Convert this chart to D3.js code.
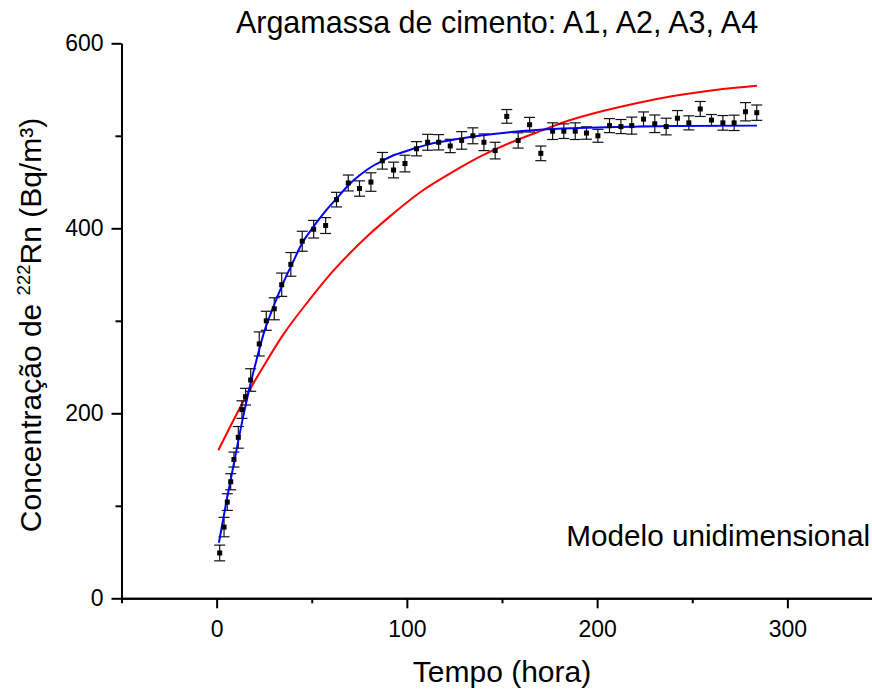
<!DOCTYPE html>
<html>
<head>
<meta charset="utf-8">
<script src="https://cdn.jsdelivr.net/npm/d3@7"></script>
<style>
  body { margin: 0; background: #fff; }
  svg { display: block; font-family: "Liberation Sans", Arial, sans-serif; }
</style>
</head>
<body>
<div id="chart"></div>
<script>
// dados: tempo (hora), concentração e barra de erro
const tempo = [1.6, 3.9, 5.6, 7.4, 9.1, 11.4, 13.3, 15.2, 17.9, 22.4, 26.1, 30.3, 34.2, 39.0, 45.0,
  51.0, 57.3, 63.0, 69.2, 75.1, 81.1, 87.1, 93.0, 99.0, 105.1, 110.9, 116.7, 122.8, 128.8, 134.7,
  140.5, 146.4, 152.5, 158.5, 164.5, 170.4, 176.6, 182.5, 188.5, 194.4, 200.4, 206.5, 212.5, 218.2,
  224.4, 230.3, 236.3, 242.2, 248.2, 254.2, 260.1, 266.1, 272.0, 278.0, 283.9];
const concentracao = [49, 77, 104, 126, 150, 174, 204, 218, 236, 275, 300, 313, 339, 361, 386,
  399, 403, 431, 449, 443, 450, 473, 463, 470, 486, 493, 493, 489, 495, 500,
  493, 484, 521, 495, 512, 481, 505, 505, 505, 503, 500, 511, 510, 511,
  518, 513, 510, 519, 514, 529, 517, 514, 514, 526, 525];
const erro = [8.5, 10.5, 9, 8.7, 8.1, 11.7, 9.5, 9, 12.2, 13, 10.3, 11.9, 12.6, 12.8, 10.8,
  9.5, 8.6, 7.9, 8.6, 8.3, 10, 9, 8.5, 9, 7.7, 8.6, 8.3, 7.2, 9.5, 8.6,
  9, 9, 7.4, 8.3, 7.9, 7.9, 9, 7.9, 9, 6.7, 7, 7.6, 7.6, 9.2,
  7.8, 9.5, 9, 8.3, 7.6, 8.1, 6, 7.9, 8.3, 9.9, 8.3];

// curva azul (ajuste)
const azulT = [1.2, 5, 9.1, 13, 17, 21, 25, 30, 35, 40, 45, 51, 57, 63, 69, 75, 81, 87, 93, 99,
  105, 112, 120, 130, 140, 155, 170, 190, 210, 240, 284];
const azulC = [60, 103, 146, 187, 225, 258, 288, 316, 341, 363, 384, 402, 418, 432, 446, 457, 466, 473, 479, 483,
  487, 491, 494, 497.5, 500.5, 504, 506.5, 508.3, 509.5, 510.5, 511];

// curva vermelha (modelo unidimensional)
const vermT = [0.9, 9, 17, 25, 35, 48.5, 60, 70, 80, 90, 107, 125, 140, 155, 170, 186, 203.5, 220, 240, 262, 284];
const vermC = [160, 193, 224, 252, 285, 322, 351, 373, 393, 411, 439, 462, 479, 493, 505, 517, 527, 535, 543, 549.5, 554];

const xTicks = [0, 100, 200, 300];
const xMinor = [-50, 50, 150, 250, 350];
const yTicks = [0, 200, 400, 600];
const yMinor = [100, 300, 500];

const width = 872, height = 690;
const svg = d3.select('#chart').append('svg')
  .attr('width', width)
  .attr('height', height);

const x = d3.scaleLinear().domain([-50, 350]).range([121.5, 882.5]);
const y = d3.scaleLinear().domain([0, 600]).range([598.3, 43.3]);

// eixos menores (sem rótulo)
svg.append('g')
  .attr('transform', `translate(0,${y(0)})`)
  .call(d3.axisBottom(x).tickValues(xMinor).tickSize(5).tickSizeOuter(0).tickFormat(''));
svg.append('g')
  .attr('transform', `translate(${x(-50)},0)`)
  .call(d3.axisLeft(y).tickValues(yMinor).tickSize(6).tickSizeOuter(0).tickFormat(''));

// eixos principais
svg.append('g')
  .attr('transform', `translate(0,${y(0)})`)
  .call(d3.axisBottom(x).tickValues(xTicks).tickSize(10).tickSizeOuter(0).tickPadding(12));
svg.append('g')
  .attr('transform', `translate(${x(-50)},0)`)
  .call(d3.axisLeft(y).tickValues(yTicks).tickSize(10).tickSizeOuter(0).tickPadding(8));

svg.selectAll('.domain, .tick line')
  .attr('stroke', '#000')
  .attr('stroke-width', 2);
svg.selectAll('.tick text')
  .attr('font-size', 23)
  .attr('font-family', '"Liberation Sans", Arial, sans-serif')
  .attr('fill', '#000');

// linhas
const linha = d3.line()
  .x(d => x(d[0]))
  .y(d => y(d[1]))
  .curve(d3.curveMonotoneX);

svg.append('path')
  .datum(vermT.map((t, i) => [t, vermC[i]]))
  .attr('fill', 'none')
  .attr('stroke', '#ff0000')
  .attr('stroke-width', 2)
  .attr('d', linha);

// barras de erro
const pontos = tempo.map((t, i) => ({ t, c: concentracao[i], e: erro[i] }));
const barras = svg.append('g')
  .attr('stroke', '#111')
  .attr('stroke-width', 1.2);
barras.selectAll('line.v')
  .data(pontos)
  .join('line')
  .attr('class', 'v')
  .attr('x1', d => x(d.t)).attr('x2', d => x(d.t))
  .attr('y1', d => y(d.c - d.e)).attr('y2', d => y(d.c + d.e));
barras.selectAll('line.top')
  .data(pontos)
  .join('line')
  .attr('class', 'top')
  .attr('x1', d => x(d.t) - 5.5).attr('x2', d => x(d.t) + 5.5)
  .attr('y1', d => y(d.c + d.e)).attr('y2', d => y(d.c + d.e));
barras.selectAll('line.bot')
  .data(pontos)
  .join('line')
  .attr('class', 'bot')
  .attr('x1', d => x(d.t) - 5.5).attr('x2', d => x(d.t) + 5.5)
  .attr('y1', d => y(d.c - d.e)).attr('y2', d => y(d.c - d.e));

svg.append('path')
  .datum(azulT.map((t, i) => [t, azulC[i]]))
  .attr('fill', 'none')
  .attr('stroke', '#0000ff')
  .attr('stroke-width', 2)
  .attr('d', linha);

// marcadores quadrados
svg.append('g').selectAll('rect')
  .data(pontos)
  .join('rect')
  .attr('x', d => x(d.t) - 2.5)
  .attr('y', d => y(d.c) - 2.5)
  .attr('width', 5)
  .attr('height', 5)
  .attr('fill', '#000');

// textos
svg.append('text')
  .attr('x', 497).attr('y', 33)
  .attr('text-anchor', 'middle')
  .attr('font-size', 30.5)
  .text('Argamassa de cimento: A1, A2, A3, A4');

svg.append('text')
  .attr('x', 870).attr('y', 546)
  .attr('text-anchor', 'end')
  .attr('font-size', 29.7)
  .text('Modelo unidimensional');

svg.append('text')
  .attr('x', 502).attr('y', 682)
  .attr('text-anchor', 'middle')
  .attr('font-size', 30)
  .text('Tempo (hora)');

const rotulo = svg.append('text')
  .attr('transform', 'translate(41,325) rotate(-90)')
  .attr('text-anchor', 'middle')
  .attr('font-size', 30);
rotulo.append('tspan').text('Concentração de ');
rotulo.append('tspan').attr('font-size', 18.5).attr('dy', -11).text('222');
rotulo.append('tspan').attr('dy', 11).text('Rn (Bq/m³)');
</script>
</body>
</html>
